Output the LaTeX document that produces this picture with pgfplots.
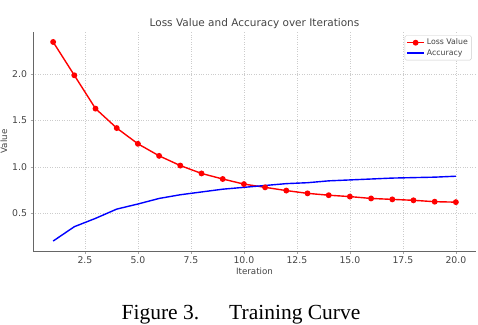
\documentclass[border=0pt]{standalone}
\usepackage{fontspec}
\setmainfont{DejaVu Sans}
\newfontfamily\capfont{Liberation Serif}
\usepackage{pgfplots}
\pgfplotsset{compat=1.18}

\definecolor{txt}{HTML}{444444}
\definecolor{lossred}{HTML}{FF0000}
\definecolor{accblue}{HTML}{0000FF}

\begin{document}
\begin{tikzpicture}
\useasboundingbox (0pt,0pt) rectangle (478pt,324pt);
\begin{axis}[
    at={(33pt,73pt)}, anchor=south west,
    scale only axis,
    width=443pt, height=219pt,
    xmin=0.05, xmax=20.95,
    ymin=0.0925, ymax=2.4575,
    xtick={2.5,5,7.5,10,12.5,15,17.5,20},
    ytick={0.5,1.0,1.5,2.0},
    xticklabel style={/pgf/number format/.cd,fixed,fixed zerofill,precision=1},
    yticklabel style={/pgf/number format/.cd,fixed,fixed zerofill,precision=1},
    /pgf/number format/assume math mode=true,
    ticklabel style={font=\fontsize{9.3}{10}\selectfont, text=txt},
    axis x line*=bottom, axis y line*=left,
    axis line style={black!60, line width=0.7pt},
    tick style={black!35, line width=0.4pt},
    tick align=outside, major tick length=2.5pt,
    grid=major,
    grid style={dotted, black!20, line width=0.5pt},
    xlabel={Iteration}, ylabel={Value},
    label style={font=\fontsize{8.7}{10}\selectfont, text=txt},
    xlabel style={yshift=3pt},
    ylabel style={yshift=-2pt},
    legend style={at={(0.99,0.985)}, anchor=north east,
        font=\fontsize{7.8}{9}\selectfont, text=txt,
        draw=black!20, rounded corners=1.5pt, inner sep=1.5pt,
        row sep=-1pt},
    legend cell align=left,
]
\addplot[lossred, line width=1.4pt, mark=*, mark size=2.2pt] coordinates {
(1,2.35) (2,1.99) (3,1.63) (4,1.42) (5,1.25) (6,1.12) (7,1.015) (8,0.93)
(9,0.87) (10,0.815) (11,0.78) (12,0.745) (13,0.715) (14,0.695) (15,0.68)
(16,0.66) (17,0.65) (18,0.64) (19,0.625) (20,0.62)};
\addlegendentry{Loss Value}
\addplot[accblue, line width=1.4pt, no marks] coordinates {
(1,0.20) (2,0.355) (3,0.445) (4,0.545) (5,0.60) (6,0.66) (7,0.70) (8,0.73)
(9,0.76) (10,0.78) (11,0.80) (12,0.82) (13,0.83) (14,0.85) (15,0.86)
(16,0.87) (17,0.88) (18,0.885) (19,0.89) (20,0.90)};
\addlegendentry{Accuracy}
\end{axis}
\node[anchor=base, text=txt, font=\fontsize{10.5}{12}\selectfont] at (254.5pt,297.5pt) {Loss Value and Accuracy over Iterations};
\node[anchor=base, font=\capfont\fontsize{21.5}{24}\selectfont, inner sep=0pt] at (241pt,5pt) {Figure 3.\hspace{30pt}Training Curve};
\end{tikzpicture}
\end{document}
